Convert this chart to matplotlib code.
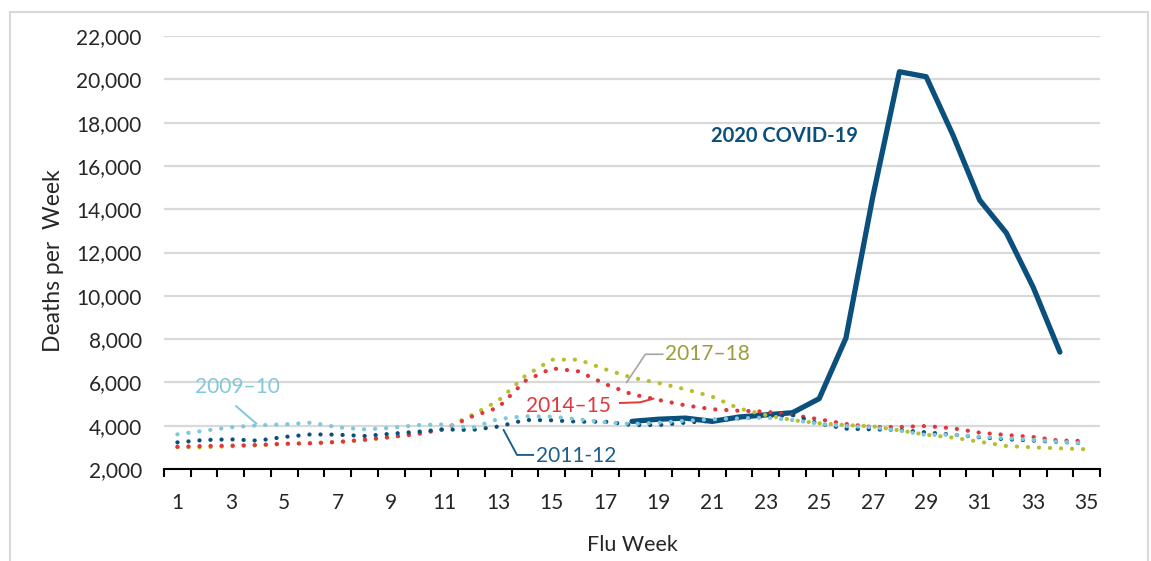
import matplotlib
matplotlib.use("Agg")
import matplotlib.pyplot as plt
from matplotlib.patches import Rectangle
from matplotlib.ticker import FuncFormatter, FixedLocator

weeks = list(range(1, 36))

s2009 = [3600, 3770, 3925, 4020, 4060, 4140, 3925, 3830, 3900, 4030,
         4060, 3895, 4310, 4440, 4420, 4295, 4160, 4080, 4140, 4230,
         4295, 4340, 4370, 4260, 4090, 3986, 3925, 3770, 3570, 3585,
         3490, 3420, 3340, 3260, 3185]
s2011 = [3230, 3340, 3370, 3310, 3480, 3600, 3585, 3525, 3630, 3725,
         3830, 3800, 3960, 4263, 4250, 4185, 4185, 4030, 4030, 4140,
         4230, 4340, 4430, 4495, 4093, 3862, 3830, 3800, 3693, 3585,
         3463, 3370, 3310, 3247, 3185]
s2014 = [3030, 3062, 3077, 3108, 3170, 3185, 3247, 3355, 3478, 3617,
         3847, 4415, 4840, 6065, 6650, 6510, 5925, 5450, 5190, 4940,
         4760, 4690, 4650, 4495, 4295, 4080, 3940, 3940, 3986, 3880,
         3678, 3570, 3478, 3310, 3300]
s2017 = [3000, 3000, 3050, 3100, 3150, 3200, 3250, 3330, 3480, 3650,
         3860, 4480, 5150, 6295, 7050, 7050, 6605, 6220, 5970, 5680,
         5340, 4800, 4495, 4260, 4110, 4030, 3970, 3785, 3585, 3447,
         3262, 3062, 3000, 2955, 2910]
covid_weeks = list(range(18, 35))
covid = [4200, 4300, 4350, 4200, 4400, 4500, 4600, 5250, 8050, 14550,
         20350, 20120, 17430, 14420, 12900, 10400, 7400]

yticks = list(range(2000, 22001, 2000))
xtick_labels = [str(w) for w in range(1, 36, 2)]

C_LIGHT = "#7EC8DC"
C_DARK = "#0B4F7C"
C_RED = "#E0373B"
C_OLIVE = "#B8BE2E"
C_OLIVE_TXT = "#9C9C3C"

plt.rcParams['font.family'] = ['Lato', 'DejaVu Sans']

fig = plt.figure(figsize=(11.51, 5.61), dpi=100)
fig.patches.append(Rectangle((10/1151, -10/561), 1138/1151, 559/561, transform=fig.transFigure,
                             fill=False, edgecolor="#D9D9D9", linewidth=1.5))
ax = fig.add_axes([164/1151, 1 - 469/561, (1100 - 164)/1151, (469 - 36)/561])

ax.set_xlim(0.5, 35.5)
ax.set_ylim(2000, 22000)

for y in yticks[1:]:
    ax.axhline(y, color="#D9D9D9", linewidth=1.6, zorder=0)

ax.plot(covid_weeks, covid, color=C_DARK, linewidth=3.8, solid_joinstyle='round',
        solid_capstyle='round', zorder=2)

dot = (0, (0.05, 2.6))
for data, col, z in [(s2017, C_OLIVE, 3), (s2014, C_RED, 4), (s2011, C_DARK, 5), (s2009, C_LIGHT, 6)]:
    ax.plot(weeks, data, color=col, linewidth=3.0, linestyle=dot, dash_capstyle='round', zorder=z)

for sp in ['top', 'right', 'left']:
    ax.spines[sp].set_visible(False)
ax.spines['bottom'].set_color('black')
ax.spines['bottom'].set_linewidth(1.5)
ax.spines['bottom'].set_zorder(7)

ax.set_yticks(yticks)
ax.yaxis.set_major_formatter(FuncFormatter(lambda v, p: f"{int(v):,}"))
ax.tick_params(axis='y', length=0, pad=16, labelsize=15, labelcolor="#262626")

ax.xaxis.set_major_locator(FixedLocator(list(range(1, 36, 2))))
ax.set_xticklabels(xtick_labels)
ax.xaxis.set_minor_locator(FixedLocator([w + 0.5 for w in range(0, 36)]))
ax.tick_params(axis='x', which='major', length=0, pad=17, labelsize=15, labelcolor="#262626")
ax.tick_params(axis='x', which='minor', length=6, width=1.5, color='black', direction='out')

ax.set_xlabel("Flu Week", fontsize=15.5, color="#262626", labelpad=16)
ax.set_ylabel("Deaths per  Week", fontsize=16.5, color="#262626", labelpad=10)
ax.yaxis.set_label_coords(-0.107, 0.48)

# annotations
ax.text(20.95, 17400, "2020 COVID-19", color=C_DARK, fontsize=14.5, fontweight='bold',
        ha='left', va='center')

ax.text(19.25, 7300, "2017\u201318", color=C_OLIVE_TXT, fontsize=15, ha='left', va='center')
ax.plot([19.15, 18.5, 17.8], [7300, 7300, 6000], color="#A6A6A6", linewidth=1.2, zorder=8)

ax.text(14.05, 4900, "2014\u201315", color=C_RED, fontsize=15, ha='left', va='center')
ax.plot([17.55, 18.3, 18.8], [5050, 5080, 5250], color=C_RED, linewidth=1.4, zorder=8)

ax.text(1.65, 5800, "2009\u201310", color=C_LIGHT, fontsize=15, ha='left', va='center')
ax.plot([3.2, 3.95], [4900, 4100], color=C_LIGHT, linewidth=1.4, zorder=8)

ax.text(14.4, 2580, "2011-12", color="#1F5F8B", fontsize=15, ha='left', va='center')
ax.plot([13.2, 13.7, 14.3], [3800, 2650, 2650], color="#1F5F8B", linewidth=1.4, zorder=8)

fig.savefig("out.png", dpi=100)
